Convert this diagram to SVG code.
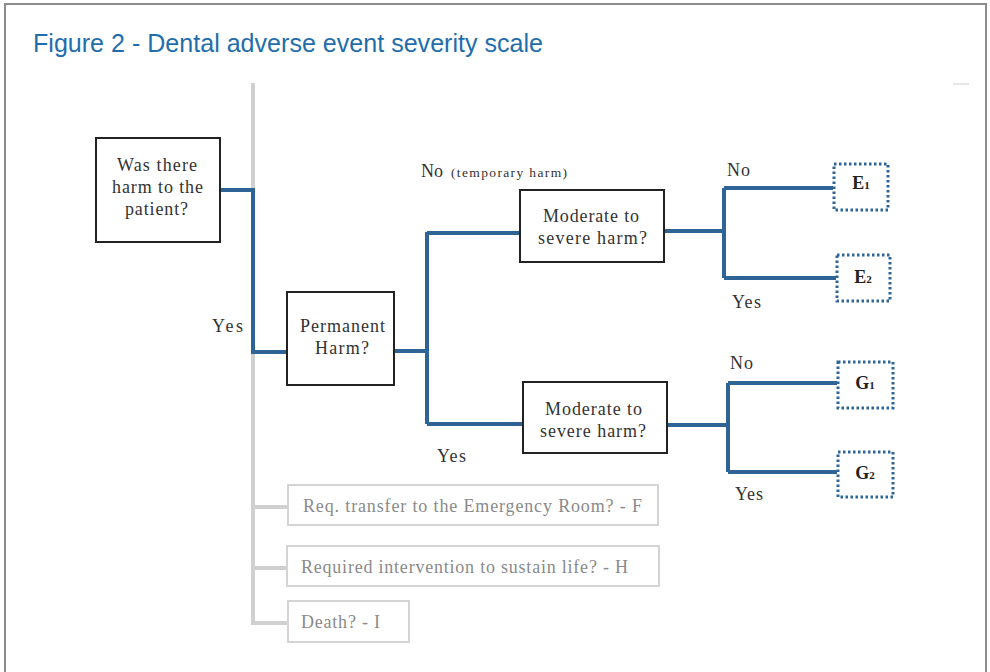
<svg xmlns="http://www.w3.org/2000/svg" width="990" height="672" viewBox="0 0 990 672">
<style>
.node{fill:#fff;stroke:#222;stroke-width:2}
.t{font-family:"Liberation Serif","Times New Roman",serif;font-size:18px;fill:#333}
.lbl{font-family:"Liberation Serif","Times New Roman",serif;font-size:18px;fill:#333}
.sm{font-family:"Liberation Serif","Times New Roman",serif;font-size:13.5px;fill:#333}
.leaf{fill:#fff;stroke:#2e6496;stroke-width:3;stroke-dasharray:2.5 2.5}
.lt{font-family:"Liberation Serif","Times New Roman",serif;font-size:18px;font-weight:bold;fill:#222;text-anchor:middle}
.g{fill:#fff;stroke:#d4d4d4;stroke-width:2}
.gt{font-family:"Liberation Serif","Times New Roman",serif;font-size:18px;fill:#8a8a8a}
.blue{fill:none;stroke:#2e6496;stroke-width:4}
.gray{fill:none;stroke:#d0d0d0;stroke-width:4}
</style>
<rect x="0" y="0" width="990" height="672" fill="#fff"/>
<path d="M5,680 V4 H986 V680" fill="none" stroke="#8c8c8c" stroke-width="2"/>
<line x1="953" y1="84" x2="969" y2="84" stroke="#e6e6e6" stroke-width="2"/>
<text x="33" y="52" font-family="'Liberation Sans Narrow','Liberation Sans',Arial,sans-serif" font-size="26" fill="#1f6eab" textLength="510" lengthAdjust="spacingAndGlyphs">Figure 2 - Dental adverse event severity scale</text>

<g id="connectors">
<path class="gray" d="M253,83 V623 H288 M253,507 H288 M253,568 H288"/>
<path class="blue" d="M220,190 H253 V352 H287"/>
<path class="blue" d="M394,351 H427 M427,232 V424 M427,233 H520 M427,424 H523"/>
<path class="blue" d="M664,231 H724 M724,188 V278 M724,188 H833 M724,278 H836"/>
<path class="blue" d="M667,425 H728 M728,383 V472 M728,383 H837 M728,472 H837"/>
</g>

<g id="n-harm"><rect class="node" x="96" y="138" width="124" height="104"/>
<text class="t" x="117" y="171" textLength="80">Was there</text><text class="t" x="112" y="193" textLength="91">harm to the</text><text class="t" x="125" y="215" textLength="63">patient?</text></g>
<g id="n-perm"><rect class="node" x="287" y="292" width="107" height="93"/>
<text class="t" x="300" y="332" textLength="85">Permanent</text><text class="t" x="315" y="354" textLength="54">Harm?</text></g>
<g id="n-mod1"><rect class="node" x="520" y="190" width="144" height="72"/>
<text class="t" x="543" y="222" textLength="96">Moderate to</text><text class="t" x="538" y="244" textLength="109">severe harm?</text></g>
<g id="n-mod2"><rect class="node" x="523" y="382" width="144" height="71"/>
<text class="t" x="545" y="415" textLength="97">Moderate to</text><text class="t" x="540" y="437" textLength="106">severe harm?</text></g>

<g id="n-e1"><rect class="leaf" x="834" y="164" width="54" height="46"/><text class="lt" x="861" y="189">E<tspan font-size="11">1</tspan></text></g>
<g id="n-e2"><rect class="leaf" x="837" y="255" width="53" height="46"/><text class="lt" x="863" y="283">E<tspan font-size="11">2</tspan></text></g>
<g id="n-g1"><rect class="leaf" x="838" y="362" width="55" height="46"/><text class="lt" x="865" y="389">G<tspan font-size="11">1</tspan></text></g>
<g id="n-g2"><rect class="leaf" x="838" y="452" width="55" height="45"/><text class="lt" x="865" y="479">G<tspan font-size="11">2</tspan></text></g>

<g id="n-f"><rect class="g" x="288" y="485" width="370" height="40"/><text class="gt" x="303" y="512" textLength="339">Req. transfer to the Emergency Room? - F</text></g>
<g id="n-h"><rect class="g" x="287" y="546" width="372" height="40"/><text class="gt" x="301" y="573" textLength="327">Required intervention to sustain life? - H</text></g>
<g id="n-i"><rect class="g" x="288" y="601" width="121" height="41"/><text class="gt" x="301" y="628" textLength="79">Death? - I</text></g>

<g id="labels">
<text class="lbl" x="421" y="177">No</text>
<text class="sm" x="451" y="177" textLength="116">(temporary harm)</text>
<text class="lbl" x="212" y="332" textLength="31">Yes</text>
<text class="lbl" x="437" y="462" textLength="29">Yes</text>
<text class="lbl" x="727" y="176" textLength="23">No</text>
<text class="lbl" x="732" y="308" textLength="29">Yes</text>
<text class="lbl" x="730" y="369" textLength="23">No</text>
<text class="lbl" x="735" y="500" textLength="28">Yes</text>
</g>
</svg>
